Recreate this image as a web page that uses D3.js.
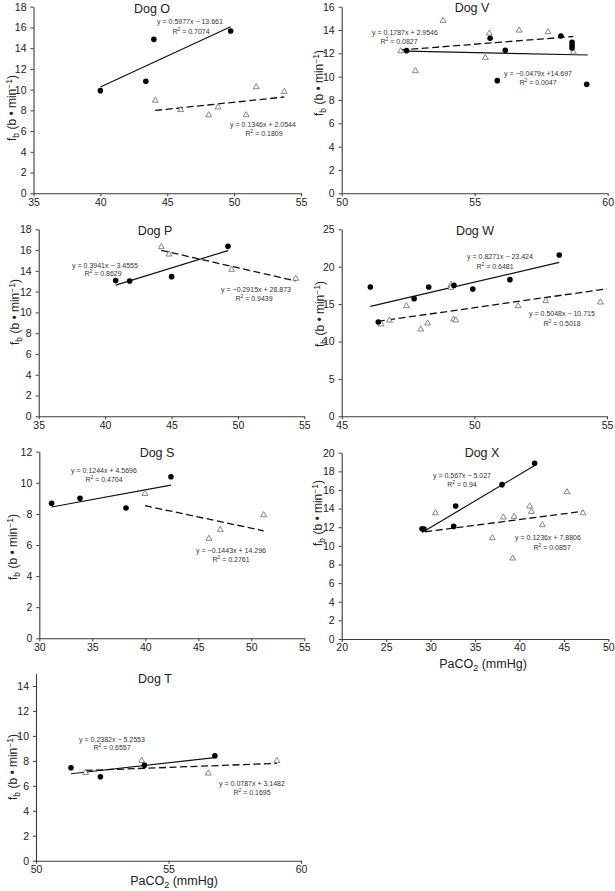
<!DOCTYPE html>
<html><head><meta charset="utf-8">
<script src="https://cdn.jsdelivr.net/npm/d3@7"></script>
<style>
body{margin:0;background:#fff}
svg{display:block}
text{font-family:"Liberation Sans",Arial,Helvetica,sans-serif}
</style>
</head><body>
<svg id="chart" width="615" height="891"></svg>
<script>
// ---------------- DATA ----------------
const dogNames = ["Dog O","Dog V","Dog P","Dog W","Dog S","Dog X","Dog T"];
const xDomains = [[35,55],[50,60],[35,55],[45,55],[30,55],[20,50],[50,60]];
const yDomains = [[0,18],[0,16],[0,18],[0,25],[0,12],[0,20],[0,15]];
const xTickValues = [[35,40,45,50,55],[50,55,60],[35,40,45,50,55],[45,50,55],[30,35,40,45,50,55],[20,25,30,35,40,45,50],[50,55,60]];
const yTickValues = [
  [0,2,4,6,8,10,12,14,16,18],[0,2,4,6,8,10,12,14,16],[0,2,4,6,8,10,12,14,16,18],
  [0,5,10,15,20,25],[0,2,4,6,8,10,12],[0,2,4,6,8,10,12,14,16,18,20],[0,2,4,6,8,10,12,14]];

// filled circles (x = PaCO2, y = fb)
const filledO = [[40.0,9.9],[43.4,10.8],[44.0,14.85],[49.74,15.66]];
const filledV = [[52.44,12.23],[55.58,13.29],[55.85,9.66],[56.15,12.26],[58.24,13.49],[58.66,12.95],[58.66,12.7],[58.66,12.45],[59.21,9.34]];
const filledP = [[40.8,13.06],[41.85,13.03],[45.01,13.44],[49.25,16.36]];
const filledW = [[46.08,17.29],[46.38,12.61],[47.73,15.73],[48.28,17.29],[49.23,17.5],[49.94,17.02],[51.34,18.27],[53.2,21.57]];
const filledS = [[31.16,8.68],[33.84,9.0],[38.18,8.38],[42.42,10.39]];
const filledX = [[29.04,11.84],[29.26,11.81],[32.6,12.09],[32.82,14.28],[38.04,16.57],[41.71,18.86]];
const filledT = [[51.32,7.45],[52.43,6.73],[54.09,7.64],[56.75,8.41]];

// open triangles
const openO = [[44.1,8.95],[46.0,8.05],[48.1,7.55],[48.8,8.3],[50.9,7.55],[51.65,10.25],[53.75,9.8]];
const openV = [[52.22,12.2],[52.77,10.49],[53.81,14.8],[55.4,11.63],[55.55,13.71],[56.67,13.97],[57.76,13.83],[58.71,12.09]];
const openP = [[44.23,16.3],[44.81,15.59],[49.53,14.12],[54.35,13.25]];
const openW = [[46.48,12.3],[46.8,12.83],[47.44,14.75],[47.98,11.63],[48.24,12.43],[49.12,17.6],[49.12,17.2],[49.22,12.97],[49.3,12.83],[51.65,14.75],[52.69,15.42],[54.75,15.24]];
const openS = [[39.97,9.3],[46.0,6.41],[47.08,6.99],[51.16,7.93]];
const openX = [[30.54,13.52],[36.95,10.84],[38.19,13.06],[39.39,13.13],[39.24,8.66],[41.15,14.24],[41.34,13.67],[42.58,12.24],[45.35,15.78],[47.15,13.52]];
const openT = [[51.87,7.05],[53.99,8.01],[56.5,7.0],[59.09,8.01]];

// linear fits: [slope, intercept, R2 text, x-start, x-end]
const fitFilledO = [0.5977,-13.661,"0.7074",40.0,49.74];
const fitOpenO   = [0.1346,2.0544,"0.1809",44.1,53.75];
const fitFilledV = [-0.0479,14.697,"0.0047",52.44,59.25];
const fitOpenV   = [0.1787,2.9546,"0.0827",52.22,58.71];
const fitFilledP = [0.3941,-3.4555,"0.8629",40.8,49.25];
const fitOpenP   = [-0.2915,28.873,"0.9439",44.23,54.35];
const fitFilledW = [0.8271,-23.424,"0.6481",46.08,53.2];
const fitOpenW   = [0.5048,-10.715,"0.5018",46.36,55.0];
const fitFilledS = [0.1244,4.5696,"0.4704",31.16,42.42];
const fitOpenS   = [-0.1443,14.296,"0.2761",39.97,51.16];
const fitFilledX = [0.567,-5.027,"0.94",29.04,41.71];
const fitOpenX   = [0.1236,7.8806,"0.0857",29.4,47.15];
const fitFilledT = [0.2382,-5.2553,"0.6557",51.32,56.75];
const fitOpenT   = [0.0787,3.1482,"0.1695",51.87,59.09];

// equation labels as printed
const eqFilled = ["y = 0.5977x − 13.661","y = −0.0479x +14.697","y = 0.3941x − 3.4555","y = 0.8271x − 23.424","y = 0.1244x + 4.5696","y = 0.567x − 5.027","y = 0.2382x − 5.2553"];
const eqOpen   = ["y = 0.1346x + 2.0544","y = 0.1787x + 2.9546","y = −0.2915x + 28.873","y = 0.5048x − 10.715","y = −0.1443x + 14.296","y = 0.1236x + 7.8806","y = 0.0787x + 3.1482"];

// ---------------- LAYOUT ----------------
const boxes = [
  {l:33.5,r:301,t:6.7,b:193.3},
  {l:341.7,r:607.7,t:6.7,b:193.3},
  {l:38.7,r:304.3,t:229.3,b:416.3},
  {l:341.7,r:607,t:229.3,b:416.3},
  {l:39.3,r:304.3,t:451.7,b:638.3},
  {l:341.7,r:608.3,t:452.7,b:639},
  {l:36,r:301,t:673.5,b:860.7}
];
const titlePos = [[152,12.5],[472,12],[155,235],[475,235],[157,456.5],[482,456.5],[155,683]];
const yLabelPos = [[16,108],[323,83],[19,312],[324,314],[17,547],[322,513],[17,767]];
// [eqX, eqY, r2X, r2Y]
const eqFilledPos = [[190,23.5,191,34],[538,76,538,84.5],[105,267.5,103,276],[500,259,495,268.5],[104,472.5,104,481.5],[462,478,462,486.5],[112,741.5,112,750]];
const eqOpenPos   = [[263,127,264,136],[405,35,399,43.5],[256,292,254,301],[562,316,562,326],[231,552.5,231,562],[548,540,552,550],[252,786,252,795]];
const xTitlePanels = [[5,483,668],[6,174,885]];

const filledAll = [filledO,filledV,filledP,filledW,filledS,filledX,filledT];
const openAll = [openO,openV,openP,openW,openS,openX,openT];
const fitFilledAll = [fitFilledO,fitFilledV,fitFilledP,fitFilledW,fitFilledS,fitFilledX,fitFilledT];
const fitOpenAll = [fitOpenO,fitOpenV,fitOpenP,fitOpenW,fitOpenS,fitOpenX,fitOpenT];

const svg = d3.select("#chart");
const axisColor = "#3a3a3a";
const textColor = "#222";

dogNames.forEach((name,i)=>{
  const b = boxes[i];
  const x = d3.scaleLinear().domain(xDomains[i]).range([b.l,b.r]);
  const y = d3.scaleLinear().domain(yDomains[i]).range([b.b,b.t]);
  const g = svg.append("g");

  // axes
  const xa = g.append("g").attr("transform",`translate(0,${b.b})`)
    .call(d3.axisBottom(x).tickValues(xTickValues[i]).tickSize(3).tickSizeOuter(0).tickPadding(2).tickFormat(d3.format("d")));
  const ya = g.append("g").attr("transform",`translate(${b.l},0)`)
    .call(d3.axisLeft(y).tickValues(yTickValues[i]).tickSize(3).tickSizeOuter(0).tickPadding(4).tickFormat(d3.format("d")));
  [xa,ya].forEach(a=>{
    a.select(".domain").attr("stroke",axisColor).attr("stroke-width",1.1);
    a.selectAll(".tick line").attr("stroke",axisColor).attr("stroke-width",1);
    a.selectAll(".tick text").attr("fill",textColor).style("font-size","10.5px")
      .style("font-family",'"Liberation Sans",Arial,sans-serif');
  });

  // title
  g.append("text").attr("x",titlePos[i][0]).attr("y",titlePos[i][1])
    .attr("text-anchor","middle").attr("fill",textColor).style("font-size","12.5px").text(name);

  // y label
  const yl = g.append("text").attr("transform",`translate(${yLabelPos[i][0]},${yLabelPos[i][1]}) rotate(-90)`)
    .attr("text-anchor","middle").attr("fill",textColor).style("font-size","12px");
  yl.append("tspan").text("f");
  yl.append("tspan").attr("dy",2.5).style("font-size","8.5px").text("b");
  yl.append("tspan").attr("dy",-2.5).text(" (b • min");
  yl.append("tspan").attr("dy",-4.5).style("font-size","8.5px").text("−1");
  yl.append("tspan").attr("dy",4.5).text(")");

  // fit lines
  const line = d3.line().x(d=>x(d[0])).y(d=>y(d[1]));
  const fF = fitFilledAll[i], fO = fitOpenAll[i];
  g.append("path").datum([[fF[3],fF[0]*fF[3]+fF[1]],[fF[4],fF[0]*fF[4]+fF[1]]])
    .attr("d",line).attr("stroke","#111").attr("stroke-width",1.2).attr("fill","none");
  g.append("path").datum([[fO[3],fO[0]*fO[3]+fO[1]],[fO[4],fO[0]*fO[4]+fO[1]]])
    .attr("d",line).attr("stroke","#111").attr("stroke-width",1.3).attr("fill","none")
    .attr("stroke-dasharray","7,3.5");

  // open triangles
  const tri = d3.symbol().type(d3.symbolTriangle).size(15);
  g.selectAll("path.tri").data(openAll[i]).join("path").attr("class","tri")
    .attr("d",tri).attr("transform",d=>`translate(${x(d[0])},${y(d[1])})`)
    .attr("fill","#fff").attr("stroke","#6a6a6a").attr("stroke-width",0.8);

  // filled circles
  g.selectAll("circle.pt").data(filledAll[i]).join("circle").attr("class","pt")
    .attr("cx",d=>x(d[0])).attr("cy",d=>y(d[1])).attr("r",2.8).attr("fill","#000");

  // equation labels
  const eqs = [[eqFilled[i],fF[2],eqFilledPos[i]],[eqOpen[i],fO[2],eqOpenPos[i]]];
  eqs.forEach(([eq,r2,p])=>{
    g.append("text").attr("x",p[0]).attr("y",p[1]).attr("text-anchor","middle")
      .attr("fill","#333").style("font-size","7px").text(eq);
    const t = g.append("text").attr("x",p[2]).attr("y",p[3]).attr("text-anchor","middle")
      .attr("fill","#333").style("font-size","7px");
    t.append("tspan").text("R");
    t.append("tspan").attr("dy",-3).style("font-size","5px").text("2");
    t.append("tspan").attr("dy",3).text(" = " + r2);
  });
});

// x-axis titles
xTitlePanels.forEach(([pi,cx,cy])=>{
  const t = svg.append("text").attr("x",cx).attr("y",cy).attr("text-anchor","middle")
    .attr("fill",textColor).style("font-size","12.5px");
  t.append("tspan").text("PaCO");
  t.append("tspan").attr("dy",3).style("font-size","9px").text("2");
  t.append("tspan").attr("dy",-3).text(" (mmHg)");
});
</script>
</body></html>
